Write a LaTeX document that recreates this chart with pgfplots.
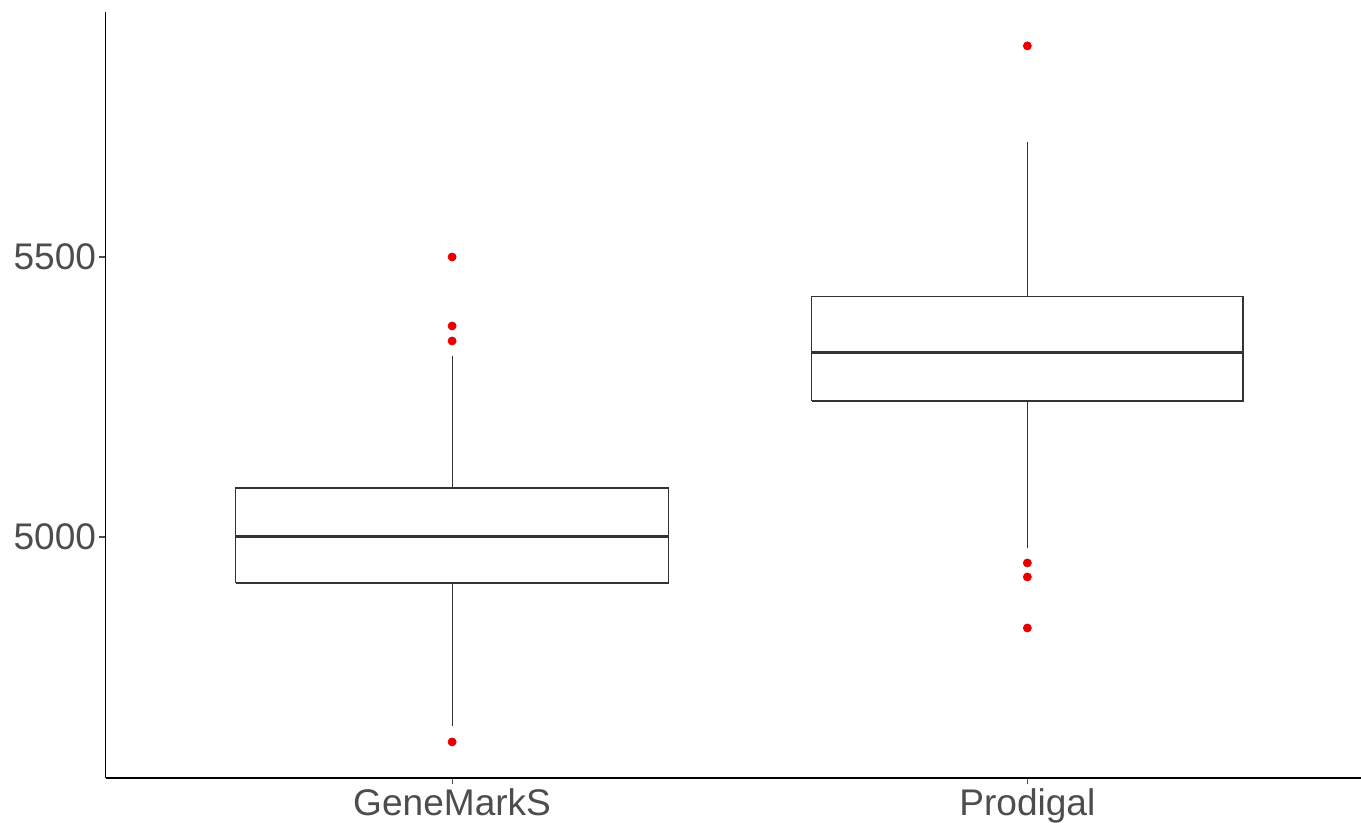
\documentclass[border=0pt]{standalone}
\usepackage{fontspec}
\setmainfont{Liberation Sans}
\usepackage{pgfplots}
\pgfplotsset{compat=1.18}
\definecolor{tickgray}{HTML}{4D4D4D}
\definecolor{boxline}{HTML}{333333}
\definecolor{outred}{HTML}{E80000}
\begin{document}
\begin{tikzpicture}
\useasboundingbox (0,0) rectangle (680.5bp,411.5bp);
\begin{axis}[
  at={(52.9bp,22.5bp)}, anchor=south west,
  scale only axis,
  width=627.6bp, height=383bp,
  xmin=0.398, xmax=2.58,
  ymin=4569.6, ymax=5937.5,
  axis x line=bottom, axis y line=left,
  axis line style={-, line width=0.6bp, black},
  xtick={1,2}, xticklabels={GeneMarkS,Prodigal},
  ytick={5000,5500},
  tick align=outside,
  major tick length=3.2bp,
  tick style={line width=0.55bp, color=tickgray},
  /pgf/number format/assume math mode=true,
  /pgf/number format/1000 sep={},
  ticklabel style={font=\fontsize{18.6}{22}\selectfont, text=tickgray},
  yticklabel style={inner sep=1.5bp},
  xticklabel style={inner sep=2bp},
  clip=false,
]
% GeneMarkS box
\addplot[draw=boxline, line width=0.6bp, mark=none] coordinates {
  (0.6235,4917.9) (1.3765,4917.9) (1.3765,5087.5) (0.6235,5087.5) (0.6235,4917.9)};
\addplot[draw=boxline, line width=1.5bp, mark=none] coordinates {(0.6235,5000) (1.3765,5000)};
\addplot[draw=boxline, line width=0.6bp, mark=none] coordinates {(1,5087.5) (1,5323)};
\addplot[draw=boxline, line width=0.6bp, mark=none] coordinates {(1,4917.9) (1,4662.5)};
% Prodigal box
\addplot[draw=boxline, line width=0.6bp, mark=none] coordinates {
  (1.625,5243) (2.375,5243) (2.375,5430) (1.625,5430) (1.625,5243)};
\addplot[draw=boxline, line width=1.5bp, mark=none] coordinates {(1.625,5330) (2.375,5330)};
\addplot[draw=boxline, line width=0.6bp, mark=none] coordinates {(2,5430) (2,5705)};
\addplot[draw=boxline, line width=0.6bp, mark=none] coordinates {(2,5243) (2,4980)};
% outliers
\addplot[only marks, mark=*, mark size=2bp, color=outred, mark options={draw=outred, fill=outred}] coordinates {
  (1,5500) (1,5376.8) (1,5350) (1,4634)
  (2,5877) (2,4953.6) (2,4928.6) (2,4837.5)
};
\end{axis}
\end{tikzpicture}
\end{document}
